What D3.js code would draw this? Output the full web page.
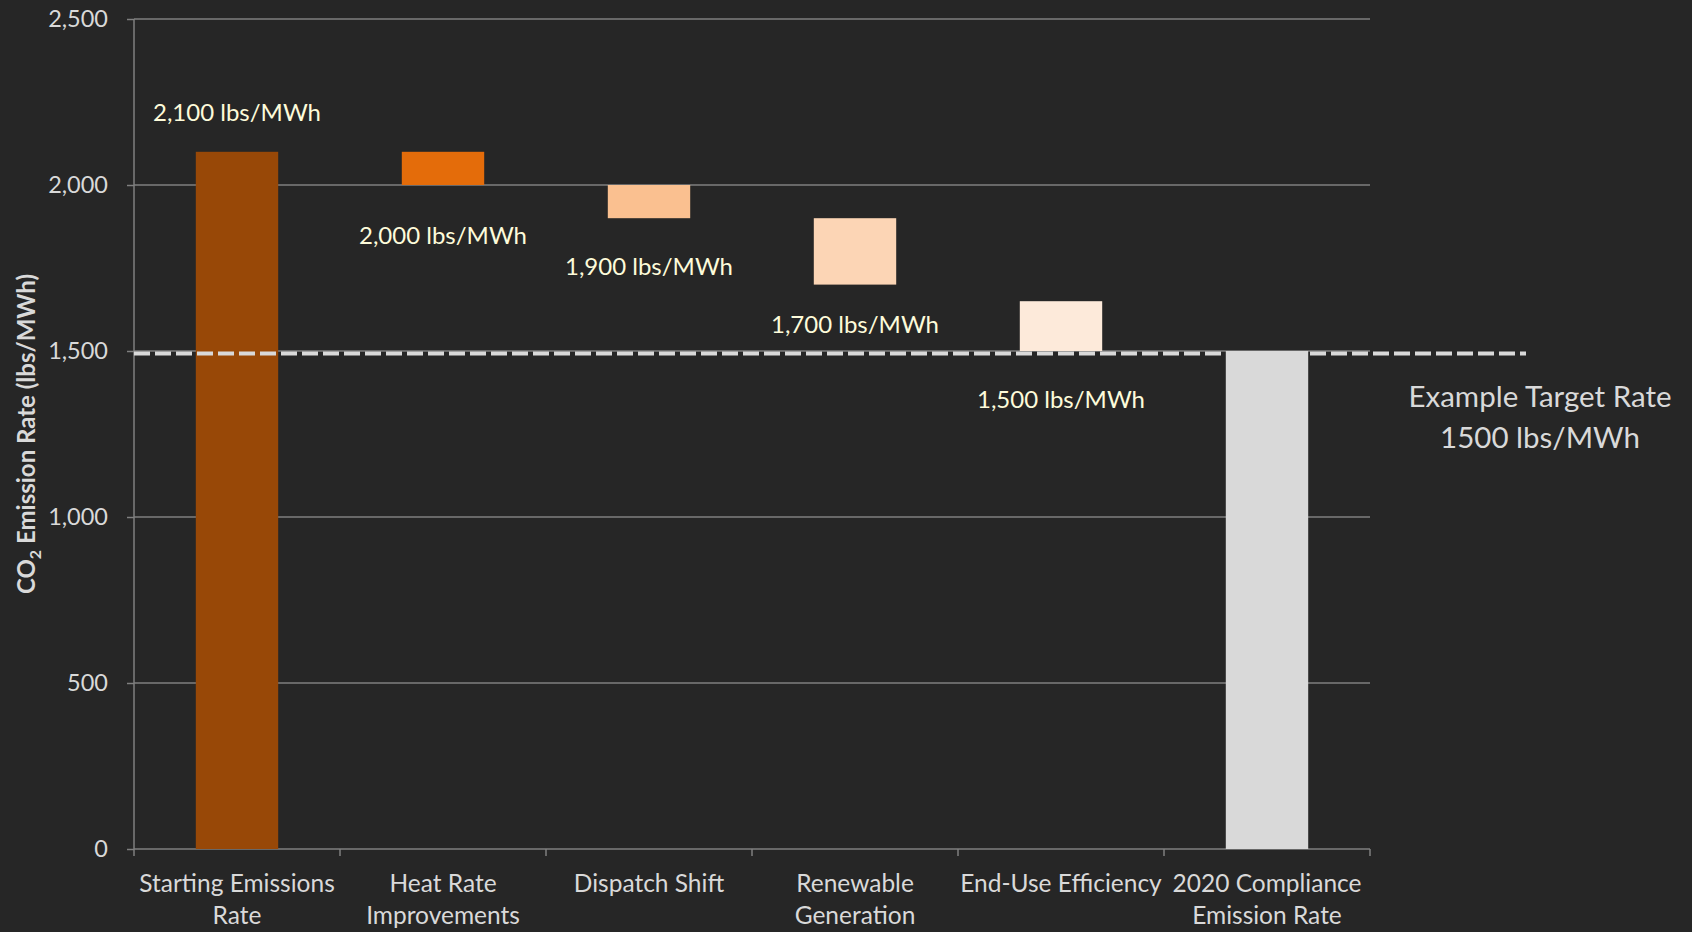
<!DOCTYPE html>
<html>
<head>
<meta charset="utf-8">
<script src="https://cdn.jsdelivr.net/npm/d3@7"></script>
<style>
  html, body { margin: 0; padding: 0; background: #262626; }
  #chart { width: 1692px; height: 932px; }
  text { font-family: Lato, "Open Sans", sans-serif; }
</style>
</head>
<body>
<div id="chart"></div>
<script>
// données du waterfall
const categories = ["Starting Emissions Rate", "Heat Rate Improvements", "Dispatch Shift",
  "Renewable Generation", "End-Use Efficiency", "2020 Compliance Emission Rate"];
const barTop = [2100, 2100, 2000, 1900, 1650, 1500];
const barBottom = [0, 2000, 1900, 1700, 1500, 0];
const barColors = ["#984807", "#E46C0A", "#FAC090", "#FCD5B5", "#FDEADA", "#D9D9D9"];
const stepLabels = ["2,100 lbs/MWh", "2,000 lbs/MWh", "1,900 lbs/MWh", "1,700 lbs/MWh", "1,500 lbs/MWh"];
const stepValues = [2100, 2000, 1900, 1700, 1500];
const yTicks = [0, 500, 1000, 1500, 2000, 2500];
const targetValue = 1500;
const targetText = ["Example Target Rate", "1500 lbs/MWh"];

const width = 1692, height = 932;
const margin = { top: 19, right: 322, bottom: 83, left: 134 };

const svg = d3.select("#chart").append("svg")
  .attr("width", width)
  .attr("height", height)
  .attr("viewBox", [0, 0, width, height]);

const x = d3.scaleBand()
  .domain(categories)
  .range([margin.left, width - margin.right])
  .paddingInner(0.6)
  .paddingOuter(0.3);

const y = d3.scaleLinear()
  .domain([0, 2500])
  .range([height - margin.bottom, margin.top]);

const gridColor = "#7F7F7F";
const textColor = "#D9D9D9";
const labelColor = "#FDFBDA";

// grille horizontale
svg.append("g")
  .selectAll("line")
  .data(yTicks.filter(d => d > 0))
  .join("line")
  .attr("x1", margin.left)
  .attr("x2", width - margin.right)
  .attr("y1", d => y(d))
  .attr("y2", d => y(d))
  .attr("stroke", gridColor)
  .attr("stroke-width", 1.5);

// axe Y
const yAxis = svg.append("g")
  .attr("transform", `translate(${margin.left},0)`)
  .call(d3.axisLeft(y).tickValues(yTicks).tickSize(7).tickPadding(19).tickFormat(d3.format(",")));
yAxis.select(".domain").attr("stroke", gridColor).attr("stroke-width", 1.5)
  .attr("d", `M0,${y(0)}V${y(2500)}`);
yAxis.selectAll(".tick line").attr("stroke", gridColor).attr("stroke-width", 1.5);
yAxis.selectAll(".tick text")
  .attr("fill", textColor)
  .style("font-size", "23.5px");

// axe X
const xAxis = svg.append("g")
  .attr("transform", `translate(0,${y(0)})`)
  .call(d3.axisBottom(x).tickSize(0).tickFormat(""));
xAxis.select(".domain").attr("stroke", gridColor).attr("stroke-width", 1.5)
  .attr("d", `M${margin.left},0H${width - margin.right}`);

// graduations entre les catégories
svg.append("g")
  .selectAll("line")
  .data(d3.range(categories.length + 1))
  .join("line")
  .attr("x1", i => margin.left + i * x.step())
  .attr("x2", i => margin.left + i * x.step())
  .attr("y1", y(0))
  .attr("y2", y(0) + 7)
  .attr("stroke", gridColor)
  .attr("stroke-width", 1.5);

// libellés des catégories, avec retour à la ligne
const catLabels = svg.append("g")
  .selectAll("text")
  .data(categories)
  .join("text")
  .attr("text-anchor", "middle")
  .attr("fill", textColor)
  .style("font-size", "24.5px")
  .attr("x", d => x(d) + x.bandwidth() / 2)
  .attr("y", y(0) + 43);

catLabels.each(function (d) {
  const t = d3.select(this);
  const words = d.split(" ");
  const maxW = x.step();
  let line = [];
  let tspan = t.append("tspan").attr("x", t.attr("x")).attr("dy", 0);
  words.forEach(w => {
    line.push(w);
    tspan.text(line.join(" "));
    if (tspan.node().getComputedTextLength() > maxW && line.length > 1) {
      line.pop();
      tspan.text(line.join(" "));
      line = [w];
      tspan = t.append("tspan").attr("x", t.attr("x")).attr("dy", 32).text(w);
    }
  });
});

// barres
svg.append("g")
  .selectAll("rect")
  .data(categories)
  .join("rect")
  .attr("x", d => x(d))
  .attr("width", x.bandwidth())
  .attr("y", (d, i) => y(barTop[i]))
  .attr("height", (d, i) => y(barBottom[i]) - y(barTop[i]))
  .attr("fill", (d, i) => barColors[i]);

// ligne cible en pointillés
svg.append("line")
  .attr("x1", margin.left)
  .attr("x2", 1526)
  .attr("y1", y(targetValue) + 2.5)
  .attr("y2", y(targetValue) + 2.5)
  .attr("stroke", "#D9D9D9")
  .attr("stroke-width", 4)
  .attr("stroke-dasharray", "16,5");

// étiquettes des paliers
const labelDy = [-31, 59, 57, 48, 57];
svg.append("g")
  .selectAll("text")
  .data(stepLabels)
  .join("text")
  .attr("text-anchor", "middle")
  .attr("fill", labelColor)
  .style("font-size", "24px")
  .attr("x", (d, i) => x(categories[i]) + x.bandwidth() / 2)
  .attr("y", (d, i) => y(stepValues[i]) + labelDy[i])
  .text(d => d);

// texte de la cible
svg.append("text")
  .attr("text-anchor", "middle")
  .attr("fill", textColor)
  .style("font-size", "29.5px")
  .selectAll("tspan")
  .data(targetText)
  .join("tspan")
  .attr("x", 1540)
  .attr("y", (d, i) => 407 + i * 41)
  .text(d => d);

// titre de l'axe Y
const yTitle = svg.append("text")
  .attr("transform", `translate(35,${(y(0) + y(2500)) / 2}) rotate(-90)`)
  .attr("text-anchor", "middle")
  .attr("fill", textColor)
  .style("font-size", "24px")
  .style("font-weight", "bold");
yTitle.append("tspan").text("CO");
yTitle.append("tspan").text("2").style("font-size", "16px").attr("dy", 6);
yTitle.append("tspan").text(" Emission Rate (lbs/MWh)").attr("dy", -6);
</script>
</body>
</html>
